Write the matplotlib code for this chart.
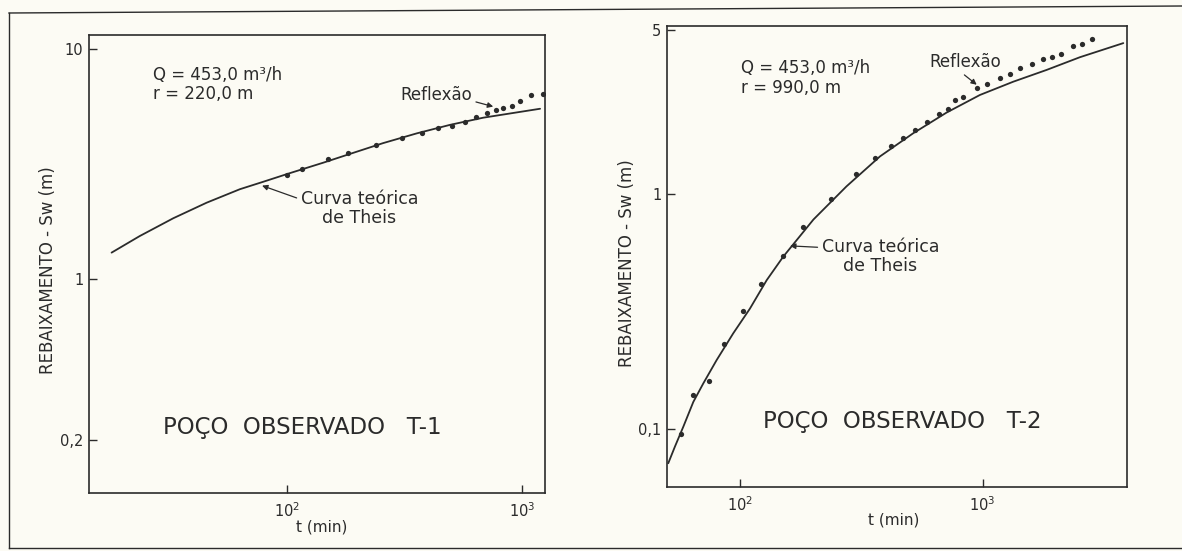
import matplotlib
matplotlib.use('Agg')
import matplotlib.pyplot as plt
from matplotlib.lines import Line2D

# ---- values ----
# well T-1, r = 220,0 m
t1_theis = [18.0, 23.7, 32.9, 45.6, 63.1, 79.3, 103, 143, 185, 256, 356, 492, 682, 1189]
s1_theis = [1.305, 1.54, 1.84, 2.15, 2.46, 2.65, 2.89, 3.21, 3.50, 3.90, 4.30, 4.68, 5.03, 5.50]
t1_obs = [99.7, 116, 150, 181, 239, 307, 373, 439, 504, 570, 635, 705, 770, 830, 901, 978, 1089, 1220]
s1_obs = [2.84, 3.02, 3.32, 3.53, 3.81, 4.10, 4.31, 4.53, 4.61, 4.84, 5.09, 5.27, 5.44, 5.55,
          5.68, 5.97, 6.28, 6.39]

# well T-2, r = 990,0 m
t2_theis = [50.7, 54.0, 58.5, 64.3, 70.7, 80.2, 93.9, 110, 129, 151, 201, 275, 378, 518, 711,
            975, 1339, 1837, 2518, 3800]
s2_theis = [0.0712, 0.0838, 0.102, 0.130, 0.156, 0.196, 0.255, 0.325, 0.43, 0.542, 0.78, 1.08,
            1.45, 1.82, 2.23, 2.65, 3.02, 3.39, 3.84, 4.41]
t2_obs = [57.0, 64.3, 74.8, 86.0, 103, 122, 151, 182, 237, 301, 360, 419, 471, 527, 589, 663,
          718, 769, 833, 945, 1046, 1181, 1298, 1427, 1593, 1778, 1926, 2105, 2365, 2561, 2815]
s2_obs = [0.0946, 0.139, 0.160, 0.230, 0.318, 0.414, 0.545, 0.723, 0.955, 1.217, 1.43, 1.60,
          1.73, 1.88, 2.04, 2.19, 2.30, 2.52, 2.61, 2.83, 2.96, 3.14, 3.25, 3.45, 3.60, 3.78,
          3.84, 3.97, 4.30, 4.38, 4.60]

x_ticks = [100, 1000]
x_ticklabels = ['$10^2$', '$10^3$']
y1_ticks = [0.2, 1, 10]
y1_ticklabels = ['0,2', '1', '10']
y2_ticks = [0.1, 1, 5]
y2_ticklabels = ['0,1', '1', '5']

PAPER = '#fcfbf4'
INK = '#2b2b2b'

plt.rcParams['font.family'] = ['DejaVu Sans']
plt.rcParams['mathtext.fontset'] = 'dejavusans'


def plot_well(ax, t_theis, s_theis, t_obs, s_obs, opts):
    """ draw one observation well panel """
    ax.set_facecolor('none')
    ax.plot(t_theis, s_theis, color=INK, lw=1.3, solid_capstyle='round', solid_joinstyle='round')
    ax.plot(t_obs, s_obs, 'o', color=INK, ms=3.8, mec='none')
    ax.set_xscale('log')
    ax.set_yscale('log')
    ax.set_xlim(opts['xlim'])
    ax.set_ylim(opts['ylim'])

    # only the major ticks, drawn inward like the original
    ax.set_xticks(x_ticks, x_ticklabels)
    ax.set_yticks(opts['yticks'], opts['yticklabels'])
    ax.minorticks_off()
    ax.tick_params(direction='in', length=6, width=1.0, color=INK, labelcolor=INK,
                   labelsize=10.5, top=False, right=False)
    ax.tick_params(axis='x', pad=6)
    ax.tick_params(axis='y', pad=4)
    for sp in ax.spines.values():
        sp.set_color(INK)
        sp.set_linewidth(1.2)

    # axis labels
    ax.set_xlabel('t (min)', fontsize=11, color=INK)
    ax.xaxis.set_label_coords(*opts['xlabel_xy'])
    ax.xaxis.label.set_va('center')
    ax.set_ylabel('REBAIXAMENTO - Sw (m)', fontsize=12, color=INK)
    ax.yaxis.set_label_coords(*opts['ylabel_xy'])
    ax.yaxis.label.set_va('center')

    # text inside the frame
    qx, qy = opts['q_xy']
    ax.text(qx, qy, 'Q = 453,0 m³/h', transform=ax.transAxes, fontsize=12, color=INK,
            va='center')
    ax.text(qx, qy - opts['line_gap'], opts['r_text'], transform=ax.transAxes, fontsize=12,
            color=INK, va='center')
    ax.text(*opts['title_xy'], opts['title'], transform=ax.transAxes, fontsize=16.5, color=INK,
            va='center')

    arrow = dict(arrowstyle='-|>', color=INK, lw=0.9, mutation_scale=8, shrinkA=1, shrinkB=0)
    ax.annotate('Reflexão', xy=opts['refl_tip'], xycoords='data',
                xytext=opts['refl_xy'], textcoords='axes fraction', fontsize=12, color=INK,
                va='center', ha='left',
                arrowprops=dict(arrow, relpos=opts['refl_relpos']))
    ax.annotate('Curva teórica\nde Theis', xy=opts['theis_tip'], xycoords='data',
                xytext=opts['theis_xy'], textcoords='axes fraction', fontsize=12.5, color=INK,
                va='center', ha='center', multialignment='center', linespacing=1.05,
                arrowprops=dict(arrow, relpos=(0.0, 0.75)))


fig = plt.figure(figsize=(11.82, 5.51), dpi=100, facecolor=PAPER)

ax1 = fig.add_axes([0.0751, 0.1053, 0.3862, 0.8312])
plot_well(ax1, t1_theis, s1_theis, t1_obs, s1_obs, {
    'xlim': (14.4, 1251), 'ylim': (0.118, 11.5),
    'yticks': y1_ticks, 'yticklabels': y1_ticklabels,
    'xlabel_xy': (0.51, -0.074), 'ylabel_xy': (-0.089, 0.487),
    'q_xy': (0.14, 0.912), 'line_gap': 0.041, 'r_text': 'r = 220,0 m',
    'title': 'POÇO  OBSERVADO   T-1', 'title_xy': (0.162, 0.144),
    'refl_xy': (0.682, 0.868), 'refl_tip': (752, 5.62), 'refl_relpos': (1.0, 0.2),
    'theis_xy': (0.593, 0.621), 'theis_tip': (78.4, 2.55),
})

ax2 = fig.add_axes([0.5643, 0.1162, 0.3892, 0.836])
plot_well(ax2, t2_theis, s2_theis, t2_obs, s2_obs, {
    'xlim': (50.1, 3937), 'ylim': (0.0564, 5.2),
    'yticks': y2_ticks, 'yticklabels': y2_ticklabels,
    'xlabel_xy': (0.4935, -0.0716), 'ylabel_xy': (-0.087, 0.486),
    'q_xy': (0.161, 0.909), 'line_gap': 0.042, 'r_text': 'r = 990,0 m',
    'title': 'POÇO  OBSERVADO   T-2', 'title_xy': (0.209, 0.143),
    'refl_xy': (0.571, 0.922), 'refl_tip': (946, 2.93), 'refl_relpos': (0.42, 0.0),
    'theis_xy': (0.464, 0.500), 'theis_tip': (161, 0.602),
})

# outer frame of the printed page (left, top and bottom rules)
W, H = 1182, 551
for (x0, y0), (x1, y1) in [((9, 13), (1182, 6)), ((9, 13), (9, 548)), ((9, 548), (1182, 548))]:
    fig.add_artist(Line2D([x0 / W, x1 / W], [1 - y0 / H, 1 - y1 / H], color=INK, lw=1.0))

fig.savefig('out.png', dpi=100, facecolor=PAPER)
